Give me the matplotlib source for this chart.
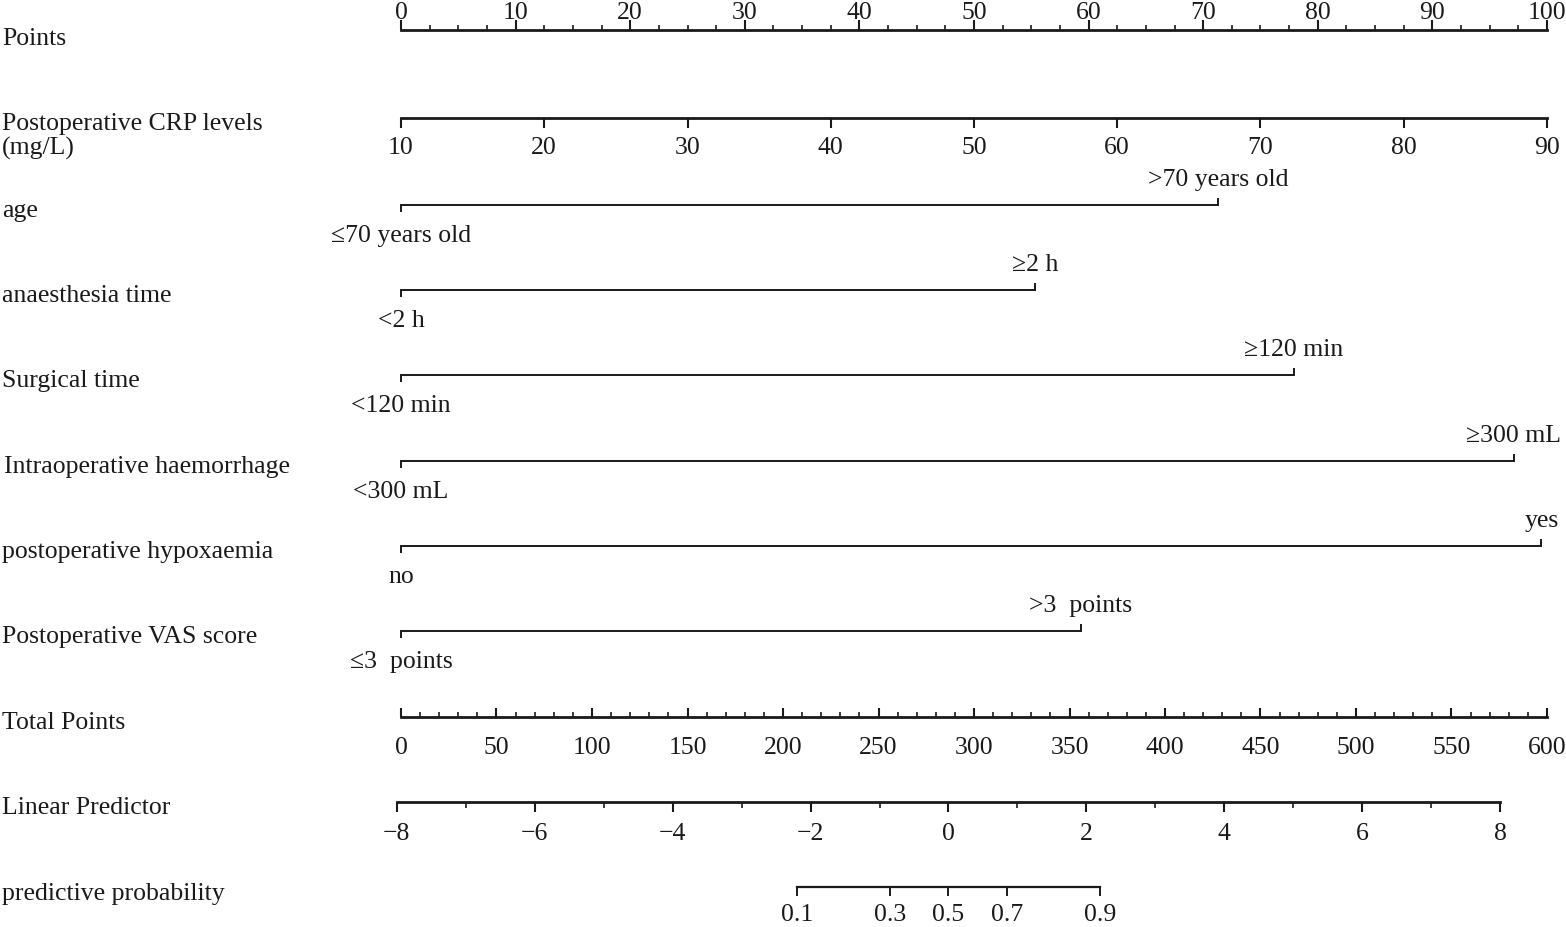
import numpy as np
import matplotlib
matplotlib.use('Agg')
from matplotlib import pyplot as plt

plt.rcParams['font.family'] = ['Liberation Serif', 'DejaVu Serif']

# Data
points_major = np.arange(0, 101, 10)
points_minor = np.arange(0, 100.1, 2.5)

crp_ticks = np.arange(10, 91, 10)
crp_min, crp_max = 10, 90

cat_names = ['age', 'anaesthesia time', 'Surgical time', 'Intraoperative haemorrhage',
             'postoperative hypoxaemia', 'Postoperative VAS score']
cat_low = ['≤70 years old', '<2 h', '<120 min', '<300 mL', 'no', '≤3  points']
cat_high = ['>70 years old', '≥2 h', '≥120 min', '≥300 mL', 'yes', '>3  points']
cat_points = [71.3, 55.3, 77.9, 97.1, 99.5, 59.3]

total_major = np.arange(0, 601, 50)
total_minor = np.arange(0, 600.1, 10)
total_max = 600

lp_major = np.arange(-8, 9, 2)
lp_minor = np.arange(-8, 8.1, 1)
lp_at_zero = -7.94      # linear predictor at 0 points
lp_per_point = 0.1662   # linear predictor per point

prob_ticks = [0.1, 0.3, 0.5, 0.7, 0.9]
prob_labels = ['0.1', '0.3', '0.5', '0.7', '0.9']


def lp_to_pts(lp):
    return (np.asarray(lp) - lp_at_zero) / lp_per_point


def prob_to_pts(p):
    p = np.asarray(p)
    return lp_to_pts(np.log(p / (1 - p)))


# Figure
fig = plt.figure(figsize=(15.66, 9.27), dpi=100)
ax = fig.add_axes([0, 0, 1, 1])
px = 100 / 1146.0
ax.set_xlim(-401 * px, (1566 - 401) * px)
ax.set_ylim(927, 0)
ax.axis('off')

col = '#1a1a1a'
fs = 18.5
lab_x = (2 - 401) * px

rows = {'points': 30, 'crp': 118, 'total': 717, 'lp': 802, 'prob': 887}
cat_rows = [205, 290, 375, 461, 546, 631]

# Points
y = rows['points']
ax.plot([0, 100], [y, y], color=col, lw=2)
ax.vlines(points_major, y - 10, y, color=col, lw=1.5)
ax.vlines(points_minor, y - 5, y, color=col, lw=1.2)
for v in points_major:
    ax.text(v, y - 17, str(v), ha='center', va='center', fontsize=fs, color=col)
ax.text(lab_x, y + 9, 'Points', ha='left', va='center', fontsize=fs, color=col)

# CRP
y = rows['crp']
crp_pts = (crp_ticks - crp_min) / (crp_max - crp_min) * 100
ax.plot([0, 100], [y, y], color=col, lw=2)
ax.vlines(crp_pts, y, y + 10, color=col, lw=1.5)
for v, p in zip(crp_ticks, crp_pts):
    ax.text(p, y + 30, str(v), ha='center', va='center', fontsize=fs, color=col)
ax.text(lab_x, y + 6, 'Postoperative CRP levels', ha='left', va='center', fontsize=fs, color=col)
ax.text(lab_x, y + 30, '(mg/L)', ha='left', va='center', fontsize=fs, color=col)

# Categorical variables
for name, lo, hi, pts, y in zip(cat_names, cat_low, cat_high, cat_points, cat_rows):
    ax.plot([0, pts], [y, y], color=col, lw=1.4)
    ax.vlines(0, y, y + 7, color=col, lw=1.4)
    ax.vlines(pts, y - 7, y, color=col, lw=1.4)
    ax.text(0, y + 31, lo, ha='center', va='center', fontsize=fs, color=col)
    ax.text(pts, y - 25, hi, ha='center', va='center', fontsize=fs, color=col)
    nx = lab_x + 2 * px if name == 'Intraoperative haemorrhage' else lab_x
    ax.text(nx, y + 6, name, ha='left', va='center', fontsize=fs, color=col)

# Total points
y = rows['total']
tp = total_major / total_max * 100
ax.plot([0, 100], [y, y], color=col, lw=2)
ax.vlines(tp, y - 9, y, color=col, lw=1.5)
ax.vlines(total_minor / total_max * 100, y - 5, y, color=col, lw=1.2)
for v, p in zip(total_major, tp):
    ax.text(p, y + 31, str(v), ha='center', va='center', fontsize=fs, color=col)
ax.text(lab_x, y + 6, 'Total Points', ha='left', va='center', fontsize=fs, color=col)

# Linear predictor
y = rows['lp']
lpp = lp_to_pts(lp_major)
ax.plot(lp_to_pts([lp_major[0], lp_major[-1]]), [y, y], color=col, lw=2)
ax.vlines(lpp, y, y + 10, color=col, lw=1.5)
ax.vlines(lp_to_pts(lp_minor), y, y + 6, color=col, lw=1.2)
for v, p in zip(lp_major, lpp):
    ax.text(p, y + 32, str(v).replace('-', '−'), ha='center', va='center', fontsize=fs, color=col)
ax.text(lab_x, y + 6, 'Linear Predictor', ha='left', va='center', fontsize=fs, color=col)

# Predictive probability
y = rows['prob']
pp = prob_to_pts(prob_ticks)
ax.plot([pp[0], pp[-1]], [y, y], color=col, lw=1.6)
ax.vlines(pp, y, y + 9, color=col, lw=1.4)
for lab, p in zip(prob_labels, pp):
    ax.text(p, y + 28, lab, ha='center', va='center', fontsize=fs, color=col)
ax.text(lab_x, y + 7, 'predictive probability', ha='left', va='center', fontsize=fs, color=col)

fig.savefig('out.png', dpi=100)
